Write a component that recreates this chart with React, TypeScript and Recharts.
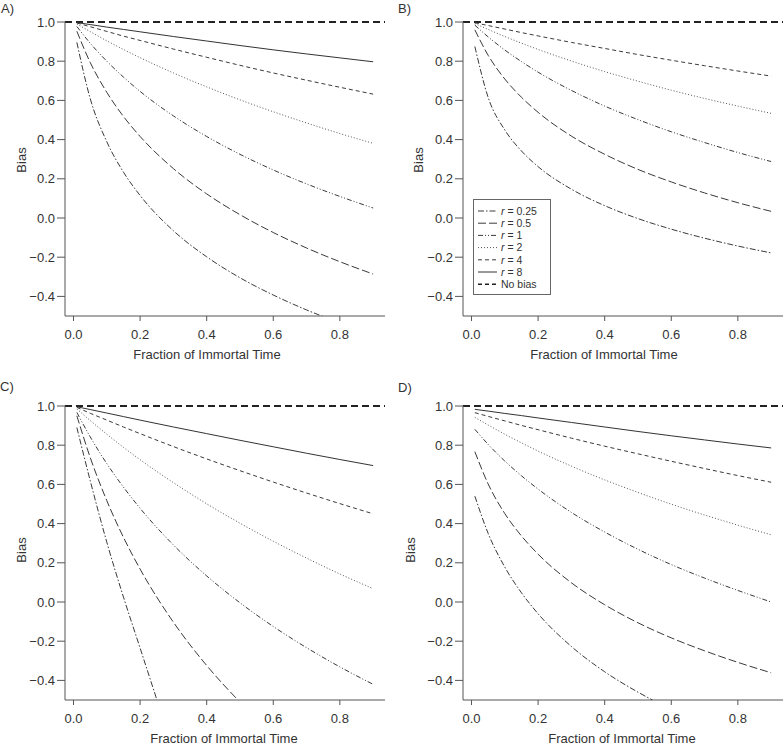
import { LineChart, Line, XAxis, YAxis, ReferenceLine, Legend } from "recharts";

// fraction of immortal time where the curves were read
const FRACTION = [0.01, 0.05, 0.1, 0.15, 0.2, 0.3, 0.4, 0.5, 0.6, 0.7, 0.8, 0.9];
const X_TICKS = [0, 0.2, 0.4, 0.6, 0.8];
const Y_TICKS = [-0.4, -0.2, 0, 0.2, 0.4, 0.6, 0.8, 1.0];

// panel A
const biasA_r025 = [0.896, 0.61, 0.389, 0.234, 0.115, -0.065, -0.198, -0.305, -0.393, -0.469, -0.535, null];
const biasA_r05 = [0.953, 0.794, 0.641, 0.518, 0.416, 0.252, 0.123, 0.017, -0.074, -0.153, -0.223, -0.286];
const biasA_r1 = [0.977, 0.892, 0.8, 0.719, 0.646, 0.521, 0.416, 0.325, 0.245, 0.174, 0.11, 0.051];
const biasA_r2 = [0.99, 0.951, 0.904, 0.86, 0.818, 0.74, 0.669, 0.603, 0.542, 0.485, 0.431, 0.381];
const biasA_r4 = [0.995, 0.976, 0.952, 0.928, 0.906, 0.862, 0.82, 0.779, 0.74, 0.703, 0.667, 0.632];
const biasA_r8 = [0.997, 0.987, 0.974, 0.962, 0.95, 0.926, 0.903, 0.88, 0.858, 0.837, 0.817, 0.797];

// panel B (no r = 8 curve drawn)
const biasB_r025 = [0.875, 0.615, 0.449, 0.342, 0.262, 0.147, 0.063, -0.003, -0.057, -0.103, -0.143, -0.178];
const biasB_r05 = [0.96, 0.83, 0.709, 0.616, 0.539, 0.418, 0.325, 0.248, 0.184, 0.128, 0.078, 0.034];
const biasB_r1 = [0.984, 0.924, 0.857, 0.798, 0.744, 0.651, 0.571, 0.502, 0.44, 0.385, 0.334, 0.288];
const biasB_r2 = [0.992, 0.962, 0.926, 0.892, 0.86, 0.801, 0.747, 0.698, 0.652, 0.61, 0.571, 0.534];
const biasB_r4 = [0.996, 0.982, 0.964, 0.946, 0.929, 0.896, 0.865, 0.834, 0.805, 0.777, 0.75, 0.724];

// panel C
const biasC_r025 = [0.89, 0.62, 0.305, 0.025, -0.235, -0.76, null, null, null, null, null, null];
const biasC_r05 = [0.95, 0.738, 0.517, 0.33, 0.168, -0.103, -0.324, -0.511, null, null, null, null];
const biasC_r1 = [0.967, 0.843, 0.706, 0.586, 0.478, 0.291, 0.133, -0.004, -0.125, -0.233, -0.331, -0.42];
const biasC_r2 = [0.985, 0.926, 0.856, 0.789, 0.726, 0.609, 0.501, 0.402, 0.31, 0.224, 0.143, 0.068];
const biasC_r4 = [0.993, 0.963, 0.928, 0.893, 0.859, 0.793, 0.73, 0.67, 0.612, 0.556, 0.502, 0.45];
const biasC_r8 = [0.996, 0.982, 0.964, 0.946, 0.928, 0.893, 0.859, 0.825, 0.792, 0.759, 0.727, 0.696];

// panel D
const biasD_r025 = [0.54, 0.35, 0.178, 0.047, -0.06, -0.227, -0.356, -0.46, -0.549, null, null, null];
const biasD_r05 = [0.767, 0.602, 0.451, 0.337, 0.244, 0.098, -0.014, -0.106, -0.183, -0.249, -0.308, -0.361];
const biasD_r1 = [0.881, 0.804, 0.719, 0.644, 0.576, 0.457, 0.357, 0.269, 0.191, 0.122, 0.059, 0.0];
const biasD_r2 = [0.942, 0.903, 0.856, 0.812, 0.77, 0.693, 0.623, 0.559, 0.499, 0.444, 0.392, 0.343];
const biasD_r4 = [0.966, 0.947, 0.924, 0.901, 0.879, 0.836, 0.795, 0.756, 0.718, 0.681, 0.645, 0.611];
const biasD_r8 = [0.983, 0.974, 0.962, 0.951, 0.939, 0.916, 0.893, 0.87, 0.848, 0.827, 0.806, 0.786];

const LINE_STYLE: Record<string, { dash?: string; color: string }> = {
  "0.25": { dash: "6 2 1.5 2", color: "#3a3a3a" },
  "0.5": { dash: "8 3", color: "#3a3a3a" },
  "1": { dash: "5 2 1 2 1 2", color: "#3a3a3a" },
  "2": { dash: "1 2", color: "#555" },
  "4": { dash: "4 3", color: "#3a3a3a" },
  "8": { color: "#333" },
};
const LEGEND_RATIOS = ["0.25", "0.5", "1", "2", "4", "8"];

const FONT = "'Liberation Sans', Arial, Helvetica, sans-serif";
const AXIS = "#555";

type Series = { r: string; values: (number | null)[] };

const panels = [
  {
    key: "A", left: 0, top: 0, xShift: -18, yShift: -9, yLabelX: 26, legend: false,
    series: [
      { r: "0.25", values: biasA_r025 }, { r: "0.5", values: biasA_r05 }, { r: "1", values: biasA_r1 },
      { r: "2", values: biasA_r2 }, { r: "4", values: biasA_r4 }, { r: "8", values: biasA_r8 },
    ],
  },
  {
    key: "B", left: 398, top: 0, xShift: -19, yShift: -9, yLabelX: 25, legend: true,
    series: [
      { r: "0.25", values: biasB_r025 }, { r: "0.5", values: biasB_r05 }, { r: "1", values: biasB_r1 },
      { r: "2", values: biasB_r2 }, { r: "4", values: biasB_r4 },
    ],
  },
  {
    key: "C", left: 0, top: 384, xShift: -1, yShift: -3, yLabelX: 26, legend: false,
    series: [
      { r: "0.25", values: biasC_r025 }, { r: "0.5", values: biasC_r05 }, { r: "1", values: biasC_r1 },
      { r: "2", values: biasC_r2 }, { r: "4", values: biasC_r4 }, { r: "8", values: biasC_r8 },
    ],
  },
  {
    key: "D", left: 398, top: 384, xShift: -1, yShift: -3, yLabelX: 17, legend: false,
    series: [
      { r: "0.25", values: biasD_r025 }, { r: "0.5", values: biasD_r05 }, { r: "1", values: biasD_r1 },
      { r: "2", values: biasD_r2 }, { r: "4", values: biasD_r4 }, { r: "8", values: biasD_r8 },
    ],
  },
];

const fmtY = (v: number) => (v < -0.001 ? "\u2212" + Math.abs(v).toFixed(1) : Math.abs(v).toFixed(1));

function LegendBox() {
  const rowY = (i: number) => 11 + i * 12.2;
  return (
    <div style={{ border: "1px solid #666", background: "#fff", width: 76, height: 94 }}>
      <svg width={76} height={94} style={{ display: "block" }}>
        {LEGEND_RATIOS.map((r, i) => {
          const st = LINE_STYLE[r];
          return (
            <g key={r}>
              <line x1={4} x2={23} y1={rowY(i)} y2={rowY(i)} stroke={st.color} strokeWidth={1} strokeDasharray={st.dash} />
              <text x={27} y={rowY(i)} dy="0.36em" fontSize={10.5} fill="#333" fontFamily={FONT}>
                <tspan fontStyle="italic">r</tspan>
                {" = " + r}
              </text>
            </g>
          );
        })}
        <line x1={4} x2={23} y1={rowY(6)} y2={rowY(6)} stroke="#222" strokeWidth={1.5} strokeDasharray="4 3" />
        <text x={27} y={rowY(6)} dy="0.36em" fontSize={10.5} fill="#333" fontFamily={FONT}>
          No bias
        </text>
      </svg>
    </div>
  );
}

function Panel({ p }: { p: (typeof panels)[number] }) {
  return (
    <div style={{ position: "absolute", left: p.left, top: p.top }}>
      <LineChart width={392} height={370} margin={{ top: 22, right: 7, bottom: 14, left: 0 }}>
        <XAxis
          type="number"
          dataKey="f"
          domain={[-0.0256, 0.9356]}
          allowDataOverflow
          ticks={X_TICKS}
          tickFormatter={(v: number) => v.toFixed(1)}
          tick={{ fontSize: 13, fill: "#333" }}
          tickSize={5}
          tickMargin={9}
          height={40}
          axisLine={{ stroke: AXIS }}
          tickLine={{ stroke: AXIS }}
          label={(props: any) => {
            const vb = props.viewBox;
            return (
              <text x={vb.x + vb.width / 2 + p.xShift} y={vb.y + 43} textAnchor="middle" fontSize={13} fill="#333">
                Fraction of Immortal Time
              </text>
            );
          }}
        />
        <YAxis
          type="number"
          domain={[-0.5, 1]}
          allowDataOverflow
          ticks={Y_TICKS}
          tickFormatter={fmtY}
          tick={{ fontSize: 13, fill: "#333" }}
          tickSize={8}
          width={65}
          axisLine={{ stroke: AXIS }}
          tickLine={{ stroke: AXIS }}
          label={(props: any) => {
            const vb = props.viewBox;
            const cy = vb.y + vb.height / 2 + p.yShift;
            return (
              <text x={p.yLabelX} y={cy} textAnchor="middle" fontSize={13} fill="#333" transform={`rotate(-90, ${p.yLabelX}, ${cy})`}>
                Bias
              </text>
            );
          }}
        />
        <ReferenceLine y={1} stroke="#222" strokeWidth={2} strokeDasharray="7 4" ifOverflow="visible" />
        {p.series.map((s: Series) => (
          <Line
            key={s.r}
            name={"r = " + s.r}
            data={FRACTION.map((f, i) => ({ f, v: s.values[i] }))}
            dataKey="v"
            type="monotone"
            stroke={LINE_STYLE[s.r].color}
            strokeWidth={1}
            strokeDasharray={LINE_STYLE[s.r].dash}
            dot={false}
            activeDot={false}
            isAnimationActive={false}
          />
        ))}
        {p.legend && (
          <Legend
            layout="horizontal"
            verticalAlign="middle"
            align="center"
            content={() => <LegendBox />}
            wrapperStyle={{ left: 75, top: 199, width: 78, height: 96 }}
          />
        )}
      </LineChart>
    </div>
  );
}

const TITLES = [
  { label: "A)", left: 1, top: 2 },
  { label: "B)", left: 398, top: 2 },
  { label: "C)", left: 0, top: 380 },
  { label: "D)", left: 398, top: 381 },
];

export default function App() {
  return (
    <div
      style={{
        position: "absolute",
        left: 0,
        top: 0,
        width: 784,
        height: 746,
        overflow: "hidden",
        background: "#fff",
        fontFamily: FONT,
      }}
    >
      {panels.map((p) => (
        <Panel key={p.key} p={p} />
      ))}
      {TITLES.map((t) => (
        <div key={t.label} style={{ position: "absolute", left: t.left, top: t.top, fontSize: 13, lineHeight: "13px", color: "#333" }}>
          {t.label}
        </div>
      ))}
    </div>
  );
}
